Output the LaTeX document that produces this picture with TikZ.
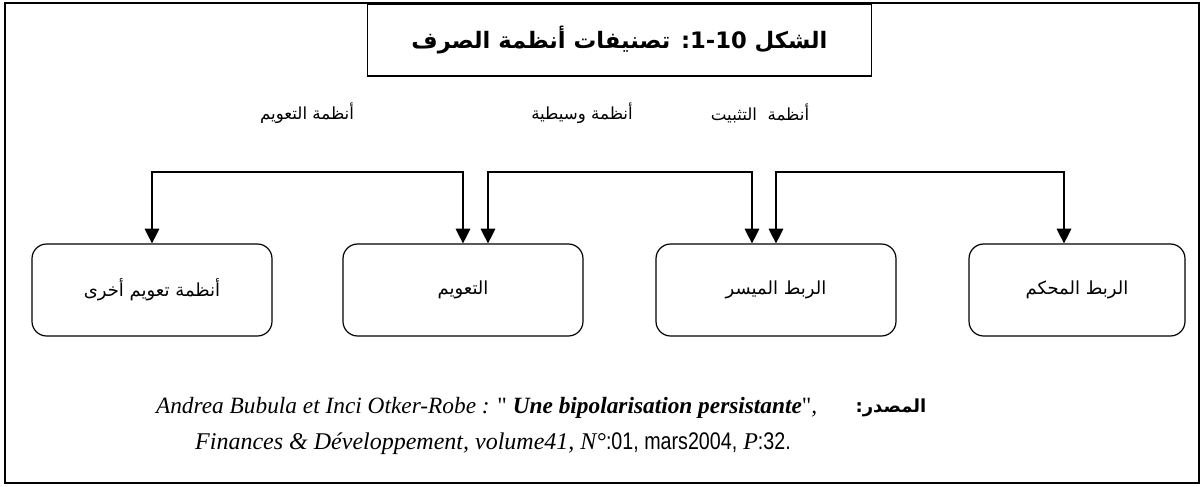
\documentclass[tikz,border=0pt]{standalone}
\usepackage{fontspec}
\setmainfont{Liberation Serif}
\newfontfamily\quotefont{Liberation Serif}
\newfontfamily\arabicfont[Script=Arabic]{DejaVu Sans}
\newfontfamily\narrowfont[FakeStretch=0.82]{Liberation Sans}
\TeXXeTstate=1
\usetikzlibrary{calc,arrows.meta}
\tikzset{
    regbox/.style={draw, line width=0.9pt, rounded corners=11pt,
        minimum width=180pt, minimum height=69pt,
        font=\arabicfont\fontsize{13.5}{16}\selectfont},
    grouplabel/.style={font=\arabicfont\fontsize{12.5}{14}\selectfont},
    link/.style={line width=0.9pt, -{Triangle[width=11pt,length=11pt]}}
}

\begin{document}
\begin{tikzpicture}[x=0.75pt,y=-0.75pt]
        \useasboundingbox (0,0) rectangle (1203,486);
        \draw[line width=0.8pt] (5,3) rectangle (1199,483);

        \node[draw, line width=1.3pt, minimum width=378pt, minimum height=54pt,
            font=\arabicfont\bfseries\fontsize{17}{20}\selectfont] (title) at (619.5,40)
            {\beginR الشكل \beginL1-10\endL: تصنيفات أنظمة الصرف\endR};

        \node[grouplabel] (lfloat) at (307,113) {\beginR أنظمة التعويم\endR};
        \node[grouplabel] (lmid) at (582,113) {\beginR أنظمة وسيطية\endR};
        \node[grouplabel] (lfix) at (760,113) {\beginR أنظمة \ التثبيت\endR};

        \node[regbox] (other) at (152,290) {\beginR أنظمة تعويم أخرى\endR};
        \node[regbox] (float) at (463,290) {\beginR التعويم\endR};
        \node[regbox] (crawl) at (776,290) {\beginR الربط الميسر\endR};
        \node[regbox, minimum width=162pt] (peg) at (1077,290) {\beginR الربط المحكم\endR};

        \coordinate (floattop) at (307,172);
        \draw[link] (floattop) -| (other.north);
        \draw[link] (floattop) -| (float.north);
        \coordinate (midtop) at (620,172);
        \draw[link] (midtop) -| ($(float.north)+(25,0)$);
        \draw[link] (midtop) -| ($(crawl.north)+(-24,0)$);
        \coordinate (fixtop) at (920,172);
        \draw[link] (fixtop) -| (crawl.north);
        \draw[link] (fixtop) -| ($(peg.north)+(-13,0)$);

        \node[anchor=east, font=\fontsize{17.5}{20}\selectfont\itshape] (cite) at (822,408)
            {Andrea Bubula et Inci Otker-Robe : {\quotefont\upshape"} \textbf{Une bipolarisation persistante}{\quotefont\upshape"},};
        \node[font=\arabicfont\bfseries\fontsize{13.5}{16}\selectfont] (srclabel) at (891,408)
            {\beginR المصدر:\endR};
        \node[font=\fontsize{18}{21}\selectfont\itshape] (journal) at (493,444)
            {Finances \& Développement, volume41, N°{\narrowfont\upshape :01, mars2004,} P{\narrowfont\upshape :32.}};
    \end{tikzpicture}
\end{document}
